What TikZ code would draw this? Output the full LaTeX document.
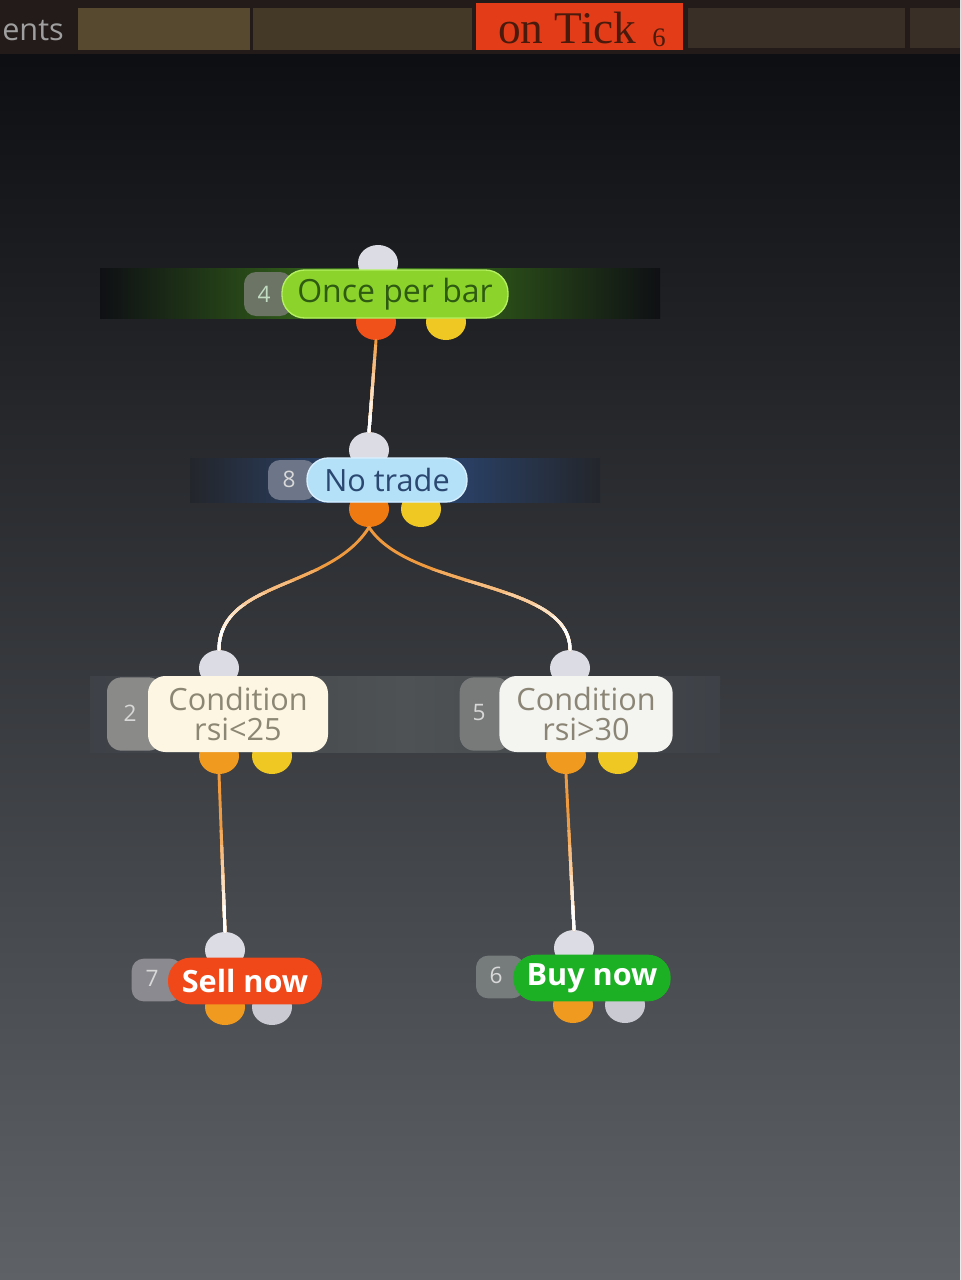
\documentclass[tikz,border=0pt]{standalone}
\usepackage{fontspec}
\setmainfont{Open Sans}
\newfontfamily\tickfont{Liberation Serif}
\usetikzlibrary{shapes.geometric}
\definecolor{bgtop}{HTML}{0A0B0F}
\definecolor{bgmid}{HTML}{383C42}
\definecolor{bgbot}{HTML}{5E6266}
\definecolor{barbg}{HTML}{221B19}
\definecolor{tabolive}{HTML}{574830}
\definecolor{tabolive2}{HTML}{443826}
\definecolor{tabred}{HTML}{E23C18}
\definecolor{tabbrown}{HTML}{3A2F27}
\definecolor{ticktext}{HTML}{4A1A0C}
\definecolor{glowg}{HTML}{3E7A1C}
\definecolor{glowb}{HTML}{2C4C80}
\definecolor{glowgrey}{HTML}{4E5254}
\definecolor{pgreen}{HTML}{8CD42C}
\definecolor{pgreenline}{HTML}{B4F060}
\definecolor{tgreen}{HTML}{2E5A12}
\definecolor{pblue}{HTML}{B4E0F8}
\definecolor{pblueline}{HTML}{D8F0FF}
\definecolor{tblue}{HTML}{2A4870}
\definecolor{pcream}{HTML}{FCF6E2}
\definecolor{pwhite}{HTML}{F4F4F0}
\definecolor{tcond}{HTML}{8C8674}
\definecolor{psell}{HTML}{F04818}
\definecolor{pbuy}{HTML}{1CB024}
\definecolor{numgrey}{HTML}{D8D8D8}
\definecolor{tabg4}{HTML}{6C7466}
\definecolor{tabg8}{HTML}{6C7688}
\definecolor{tabg2}{HTML}{8A8A88}
\definecolor{tabg5}{HTML}{787A7A}
\definecolor{tabg7}{HTML}{8A8A90}
\definecolor{tabg6}{HTML}{767C7C}
\definecolor{dotin}{HTML}{DCDCE4}
\definecolor{dotred}{HTML}{F0501A}
\definecolor{dotor}{HTML}{F07A12}
\definecolor{dotor2}{HTML}{F09A20}
\definecolor{dotyel}{HTML}{F0C824}
\definecolor{dotgrey}{HTML}{CACAD2}
\definecolor{lineor}{HTML}{F09A40}
\newcommand\gradline[3]{%
  \draw[conn, color=lineor] #3;
  \foreach \i in {1,...,6}{%
    \pgfmathsetmacro\ya{#1+(#2-#1)*(\i-1)/6}%
    \pgfmathtruncatemacro\pc{100-\i*100/6}%
    \begin{scope}\clip (0,\ya) rectangle (960,1280); \draw[conn, color=lineor!\pc!white] #3; \end{scope}}%
}
\begin{document}
\begin{tikzpicture}[x=0.75pt,y=-0.75pt,
  pill/.style={inner sep=0pt, font=\fontsize{23}{22}\selectfont},
  tabbox/.style={inner sep=0pt, rounded corners=9pt, font=\fontsize{17}{20}\selectfont, text=numgrey},
  dot/.style={ellipse, minimum width=30pt, minimum height=27pt, inner sep=0pt, draw=none},
  conn/.style={line width=2.2pt, line cap=round}]
\useasboundingbox (0,0) rectangle (960,1280);
% background
\shade[top color=bgtop, middle color=bgmid, bottom color=bgbot] (0,0) rectangle (960,1280);
% top bar
\fill[barbg] (0,0) rectangle (960,54);
\fill[tabolive] (78,8) rectangle (250,50);
\fill[tabolive2] (253,8) rectangle (472,50);
\fill[tabbrown] (688,8) rectangle (905,48);
\fill[tabbrown] (910,8) rectangle (960,48);
\node[fill=tabred, minimum width=155.25pt, minimum height=35.25pt, inner sep=0pt] (tick) at (579.5,26.5) {};
\node[text=ticktext, font=\tickfont\fontsize{34}{34}\selectfont, anchor=west, inner sep=0pt] (ticklbl) at (498,28) {on Tick};
\node[text=ticktext, font=\tickfont\fontsize{20}{20}\selectfont, inner sep=0pt] (tickn) at (659,38) {6};
\node[text=gray!75, font=\fontsize{23}{23}\selectfont, anchor=west, inner sep=0pt] (ents) at (2,31) {ents};
% glow bands
\shade[left color=bgtop!90!bgmid, right color=bgtop!90!bgmid, middle color=glowg] (100,268) rectangle (660,318);
\shade[left color=bgtop!45!bgmid, right color=bgtop!45!bgmid, middle color=glowb] (190,458) rectangle (600,502);
\shade[left color=bgmid!85!bgbot, right color=bgmid!85!bgbot, middle color=glowgrey] (90,676) rectangle (720,752);
% dots
\node[dot, fill=dotin] (in4) at (378,263) {};
\node[dot, fill=dotred] (o4a) at (376,322) {};
\node[dot, fill=dotyel] (o4b) at (446,322) {};
\node[dot, fill=dotin] (in8) at (369,450) {};
\node[dot, fill=dotor] (o8a) at (369,509) {};
\node[dot, fill=dotyel] (o8b) at (421,509) {};
\node[dot, fill=dotin] (in2) at (219,668) {};
\node[dot, fill=dotor2] (o2a) at (219,756) {};
\node[dot, fill=dotyel] (o2b) at (272,756) {};
\node[dot, fill=dotin] (in5) at (570,668) {};
\node[dot, fill=dotor2] (o5a) at (566,756) {};
\node[dot, fill=dotyel] (o5b) at (618,756) {};
\node[dot, fill=dotin] (inS) at (225,950) {};
\node[dot, fill=dotor2] (oSa) at (225,1007) {};
\node[dot, fill=dotgrey] (oSb) at (272,1007) {};
\node[dot, fill=dotin] (inB) at (574,948) {};
\node[dot, fill=dotor2] (oBa) at (573,1005) {};
\node[dot, fill=dotgrey] (oBb) at (625,1005) {};
% connectors
\gradline{345}{430}{(o4a.south) -- (in8.north)}
\gradline{570}{640}{(o8a.south) .. controls (330,590) and (219,580) .. (in2.north)}
\gradline{570}{640}{(o8a.south) .. controls (410,590) and (570,580) .. (in5.north)}
\gradline{830}{920}{(o2a.south) -- (inS.north)}
\gradline{830}{920}{(o5a.south) -- (inB.north)}
% number tabs
\node[tabbox, fill=tabg4, minimum width=36pt, minimum height=33pt] (t4) at (268,294) {};
\node[text=numgrey!90!green, font=\fontsize{17}{20}\selectfont, inner sep=0pt] (l4) at (264,294) {4};
\node[tabbox, fill=tabg8, minimum width=36pt, minimum height=30pt] (t8) at (292,480) {};
\node[text=numgrey, font=\fontsize{17}{20}\selectfont, inner sep=0pt] (l8) at (289,479) {8};
\node[tabbox, fill=tabg2, rounded corners=11pt, minimum width=42pt, minimum height=55pt] (t2) at (135,714) {};
\node[text=numgrey, font=\fontsize{17}{20}\selectfont, inner sep=0pt] (l2) at (130,713) {2};
\node[tabbox, fill=tabg5, rounded corners=11pt, minimum width=38pt, minimum height=55pt] (t5) at (485,714) {};
\node[text=numgrey, font=\fontsize{17}{20}\selectfont, inner sep=0pt] (l5) at (479,713) {5};
\node[tabbox, fill=tabg7, minimum width=38pt, minimum height=32pt] (t7) at (157,980) {};
\node[text=numgrey, font=\fontsize{17}{20}\selectfont, inner sep=0pt] (l7) at (152,978) {7};
\node[tabbox, fill=tabg6, minimum width=36pt, minimum height=32pt] (t6) at (500,977) {};
\node[text=numgrey, font=\fontsize{17}{20}\selectfont, inner sep=0pt] (l6) at (496,975) {6};
% main nodes
\node[pill, fill=pgreen, draw=pgreenline, line width=1pt, rounded corners=17pt, minimum width=169.5pt, minimum height=36pt, text=tgreen, font=\fontsize{24}{22}\selectfont] (n4) at (395,294) {Once per bar};
\node[pill, fill=pblue, draw=pblueline, line width=1pt, rounded corners=16pt, minimum width=120pt, minimum height=33pt, text=tblue] (n8) at (387,480) {No trade};
\node[pill, fill=pcream, rounded corners=13pt, minimum width=135pt, minimum height=57pt, text=tcond, align=center] (n2) at (238,714) {Condition\\rsi<25};
\node[pill, fill=pwhite, rounded corners=13pt, minimum width=130pt, minimum height=57pt, text=tcond!90!gray, align=center] (n5) at (586,714) {Condition\\rsi>30};
\node[pill, fill=psell, rounded corners=17pt, minimum width=115.5pt, minimum height=35pt, text=white, font=\bfseries\fontsize{23}{22}\selectfont] (nS) at (245,981) {Sell now};
\node[pill, fill=pbuy, rounded corners=17pt, minimum width=118pt, minimum height=35pt, text=white, font=\bfseries\fontsize{23}{22}\selectfont] (nB) at (592,978) {Buy now};
\end{tikzpicture}
\end{document}
